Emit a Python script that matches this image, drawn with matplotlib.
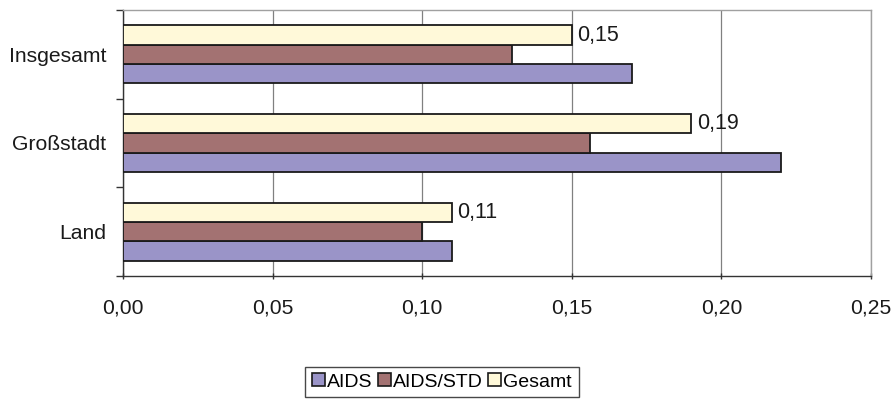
import matplotlib
matplotlib.use("Agg")
import matplotlib.pyplot as plt
from matplotlib.patches import Patch
import numpy as np

plt.rcParams['font.family'] = ['Liberation Sans', 'DejaVu Sans']

categories = ["Land", "Großstadt", "Insgesamt"]
series_names = ["AIDS", "AIDS/STD", "Gesamt"]
aids = [0.11, 0.22, 0.17]
aids_std = [0.10, 0.156, 0.13]
gesamt = [0.11, 0.19, 0.15]
x_ticks = [0.00, 0.05, 0.10, 0.15, 0.20, 0.25]
x_tick_labels = ["0,00", "0,05", "0,10", "0,15", "0,20", "0,25"]

colors = ["#9A94C8", "#A37272", "#FFF9D9"]
values = [aids, aids_std, gesamt]

fig = plt.figure(figsize=(8.95, 4.07), dpi=100)
ax = fig.add_axes([123 / 895, 1 - 276 / 407, (871 - 123) / 895, (276 - 10) / 407])

y = np.arange(len(categories))
h = 0.218
for i, (vals, col) in enumerate(zip(values, colors)):
    ax.barh(y + (i - 1) * h, vals, height=h, color=col, edgecolor="#1a1a1a",
            linewidth=1.3, zorder=3)

for yi, v in zip(y, gesamt):
    ax.text(v + 0.0018, yi + h, f"{v:.2f}".replace(".", ","), va="center",
            ha="left", fontsize=15.5, color="#1a1a1a", zorder=4)

ax.set_xlim(0, 0.25)
ax.set_ylim(-0.5, 2.5)
ax.set_xticks(x_ticks)
ax.set_xticklabels(x_tick_labels, fontsize=15.2)
ax.set_yticks(y)
ax.set_yticklabels(categories, fontsize=15.2)
ax.set_yticks([-0.5, 0.5, 1.5, 2.5], minor=True)
ax.tick_params(axis="y", which="major", length=0, pad=12)
ax.tick_params(axis="y", which="minor", length=5, width=1, color="#333333",
               direction="out")
ax.tick_params(axis="x", length=5, width=1, color="#333333", direction="inout",
               pad=14)
for lbl in ax.get_xticklabels() + ax.get_yticklabels():
    lbl.set_color("#1a1a1a")
ax.xaxis.grid(True, color="#808080", linewidth=0.9, zorder=0)
for side in ["top", "right"]:
    ax.spines[side].set_color("#a0a0a0")
    ax.spines[side].set_linewidth(1)
for side in ["left", "bottom"]:
    ax.spines[side].set_color("#333333")
    ax.spines[side].set_linewidth(1)

handles = [Patch(facecolor=c, edgecolor="#1a1a1a", linewidth=1.2) for c in colors]
leg = fig.legend(handles, series_names, loc="center",
                 bbox_to_anchor=(442 / 895, 1 - 382 / 407), ncol=3,
                 fontsize=14, frameon=True, fancybox=False,
                 handlelength=0.65, handleheight=0.65, handletextpad=0.1,
                 columnspacing=0.3, borderpad=0.35, borderaxespad=0)
leg.get_frame().set_edgecolor("#1a1a1a")
leg.get_frame().set_linewidth(1)

fig.savefig("out.png", dpi=100)
